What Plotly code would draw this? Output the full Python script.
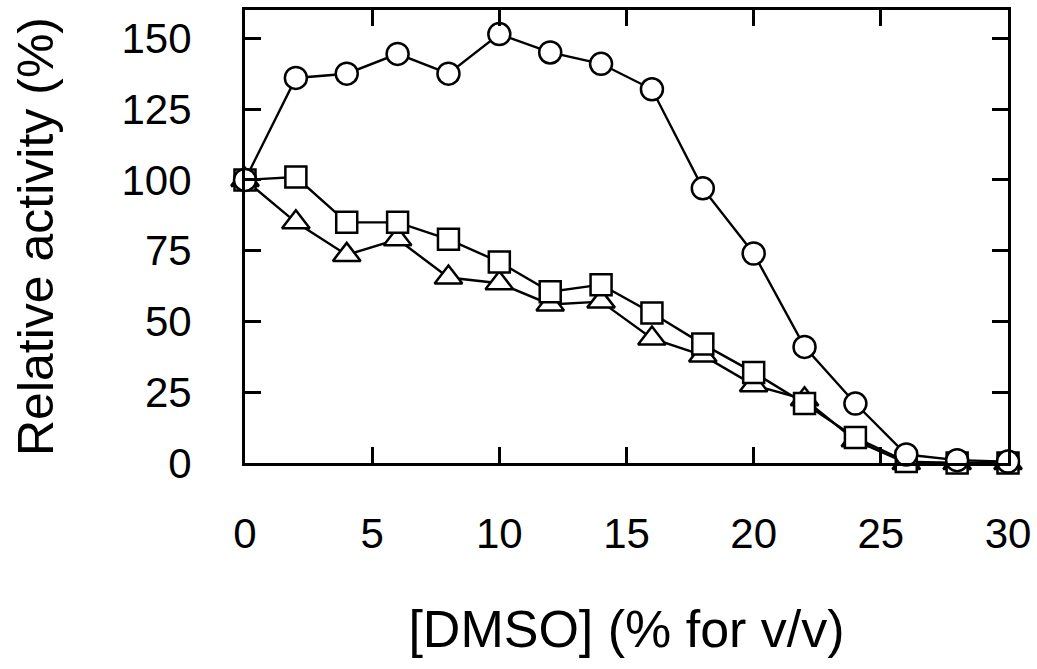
import plotly.graph_objects as go

dmso = [0, 2, 4, 6, 8, 10, 12, 14, 16, 18, 20, 22, 24, 26, 28, 30]
circle_vals = [100, 136, 137.5, 144.5, 137.5, 151.5, 145, 141, 132, 97, 74, 41, 21, 3, 1, 0.5]
square_vals = [100, 101, 85, 85, 79, 71, 60.5, 63, 53, 42, 32, 21, 9, 0.5, 0, 0]
triangle_vals = [100, 85, 73.5, 79, 65.5, 63.5, 56, 57, 44, 38, 27.5, 22.5, 8, 0, 0, 0]
x_ticks = [0, 5, 10, 15, 20, 25, 30]
y_ticks = [0, 25, 50, 75, 100, 125, 150]

FONT = "Liberation Sans, Arial, sans-serif"

fig = go.Figure()

def add(y, symbol, size):
    fig.add_trace(go.Scatter(
        x=dmso, y=y, mode="lines+markers",
        line=dict(color="black", width=2.4),
        marker=dict(symbol=symbol, size=size, color="white",
                    line=dict(color="black", width=2.5)),
        cliponaxis=False, showlegend=False, hoverinfo="skip",
    ))

add(triangle_vals, "triangle-up", 24)
add(square_vals, "square", 21)
add(circle_vals, "circle", 22)

axis_common = dict(
    showline=True, linecolor="black", linewidth=3, mirror="ticks",
    ticks="inside", ticklen=16, tickwidth=3, tickcolor="black",
    showgrid=False, zeroline=False, automargin=False,
    tickfont=dict(family=FONT, size=42, color="black"),
)

fig.update_xaxes(range=[0, 30], tickvals=x_ticks, ticklabelstandoff=32,
                 title=dict(text="[DMSO] (% for v/v)", standoff=55,
                            font=dict(family=FONT, size=52, color="black")),
                 **axis_common)
fig.update_yaxes(range=[0, 160], tickvals=y_ticks, ticklabelstandoff=42,
                 title=dict(text="Relative activity (%)", standoff=53,
                            font=dict(family=FONT, size=50, color="black")),
                 **axis_common)

fig.update_layout(
    width=1037, height=669,
    margin=dict(l=245, r=29, t=10, b=206),
    plot_bgcolor="white", paper_bgcolor="white",
)

fig.write_html("out.html", config={"displayModeBar": False, "staticPlot": True},
               post_script="document.body.style.margin='0';document.body.style.overflow='hidden';")
